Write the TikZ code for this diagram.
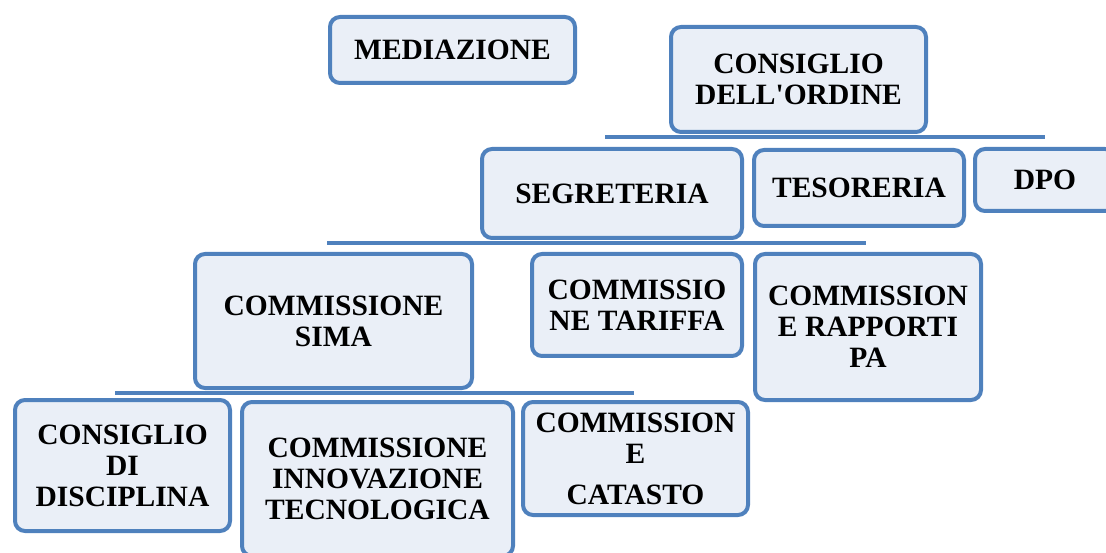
\documentclass[tikz,border=0pt]{standalone}
\usepackage{fontspec}
\setmainfont{Liberation Serif}[Ligatures=TeXOff]
\definecolor{boxblue}{HTML}{4F81BD}
\definecolor{boxfill}{HTML}{EAEFF7}

\begin{document}
\begin{tikzpicture}[x=1pt, y=-1pt, box/.style={rectangle, rounded corners=10pt, draw=boxblue, line width=4pt, fill=boxfill, align=center, inner sep=0pt, font=\fontsize{29.5}{31}\selectfont\bfseries}, bar/.style={draw=boxblue, line width=3.5pt}]
            \useasboundingbox (0,0) rectangle (1106,553);
            \coordinate (t1) at (605,137);
            \coordinate (t2) at (1045,137);
            \coordinate (m1) at (327,243);
            \coordinate (m2) at (866,243);
            \coordinate (l1) at (115,393);
            \coordinate (l2) at (634,393);
            \draw[bar] (t1) -- (t2);
            \draw[bar] (m1) -- (m2);
            \draw[bar] (l1) -- (l2);
            \node[box, minimum width=245, minimum height=66] (med) at (452.5,50) {MEDIAZIONE};
            \node[box, minimum width=255, minimum height=105] (cons) at (798.5,79.5) {CONSIGLIO\\DELL'ORDINE};
            \node[box, minimum width=260, minimum height=89] (segr) at (612,193.5) {SEGRETERIA};
            \node[box, minimum width=210, minimum height=76] (tes) at (859,188) {TESORERIA};
            \node[box, minimum width=140, minimum height=62] (dpo) at (1045,180) {DPO};
            \node[box, minimum width=277, minimum height=134] (sima) at (333.5,321) {COMMISSIONE\\SIMA};
            \node[box, minimum width=210, minimum height=102] (tar) at (637,305) {COMMISSIO\\NE TARIFFA};
            \node[box, minimum width=226, minimum height=146] (rap) at (868,327) {COMMISSION\\E RAPPORTI\\PA};
            \node[box, minimum width=215, minimum height=131] (disc) at (122.5,465.5) {CONSIGLIO\\DI\\DISCIPLINA};
            \node[box, minimum width=271, minimum height=154] (inn) at (377.5,479) {COMMISSIONE\\INNOVAZIONE\\TECNOLOGICA};
            \node[box, minimum width=225, minimum height=113] (cat) at (635.5,458.5) {COMMISSION\\E\\[10pt]CATASTO};
        \end{tikzpicture}
\end{document}
